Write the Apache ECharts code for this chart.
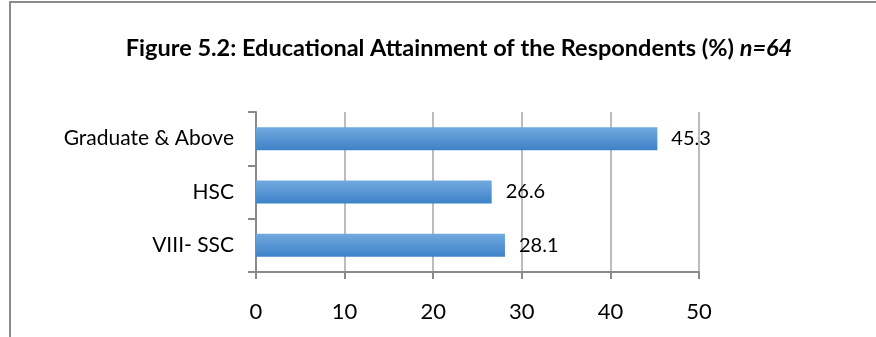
<!DOCTYPE html>
<html>
<head>
<meta charset="utf-8">
<script src="https://cdn.jsdelivr.net/npm/echarts@6/dist/echarts.min.js"></script>
<style>
html,body{margin:0;padding:0;background:#fff;}
#frame{position:absolute;left:9px;top:1px;width:900px;height:340px;border-left:2px solid #8c8c8c;border-top:2px solid #8c8c8c;}
#c{position:absolute;left:0;top:0;width:876px;height:337px;}
</style>
</head>
<body>
<div id="frame"></div>
<div id="c"></div>
<script>
var categories = ['Graduate & Above', 'HSC', 'VIII- SSC'];
var values = [45.3, 26.6, 28.1];
var xTicks = [0, 10, 20, 30, 40, 50];

var FONT = 'Lato';
var chart = echarts.init(document.getElementById('c'), null, {renderer: 'canvas'});
chart.setOption({
  animation: false,
  backgroundColor: 'transparent',
  title: {
    left: 454, top: 31, textAlign: 'center',
    text: '{b|Figure 5.2: Educational Attainment of the Respondents (%) }{i|n=64}',
    textStyle: {
      rich: {
        b: {fontFamily: FONT, fontWeight: 'bold', fontSize: 23.5, color: '#000'},
        i: {fontFamily: FONT, fontWeight: 'bold', fontStyle: 'italic', fontSize: 23.5, color: '#000'}
      }
    }
  },
  grid: {left: 256, right: 177, top: 112, bottom: 65, containLabel: false},
  xAxis: {
    type: 'value', min: xTicks[0], max: xTicks[xTicks.length - 1], interval: 10,
    axisLine: {show: true, lineStyle: {color: '#8a8a8a', width: 2}},
    axisTick: {show: true, length: 7, lineStyle: {color: '#8a8a8a', width: 2}},
    splitLine: {show: true, lineStyle: {color: '#a6a6a6', width: 1.5}},
    axisLabel: {fontFamily: FONT, fontSize: 22, color: '#000', margin: 29}
  },
  yAxis: {
    type: 'category', data: categories, inverse: true,
    axisLine: {show: true, lineStyle: {color: '#8a8a8a', width: 2}},
    axisTick: {show: true, length: 8, lineStyle: {color: '#8a8a8a', width: 2}},
    axisLabel: {fontFamily: FONT, fontSize: 21, color: '#000', margin: 22}
  },
  series: [{
    type: 'bar', data: values, barWidth: 23,
    itemStyle: {
      color: new echarts.graphic.LinearGradient(0, 0, 0, 1, [
        {offset: 0, color: '#72a9df'},
        {offset: 1, color: '#3d82c8'}
      ])
    },
    label: {show: true, position: 'right', distance: 14, fontFamily: FONT, fontSize: 20, color: '#000',
      formatter: function (p) { return p.value.toFixed(1); }}
  }]
});
</script>
</body>
</html>
